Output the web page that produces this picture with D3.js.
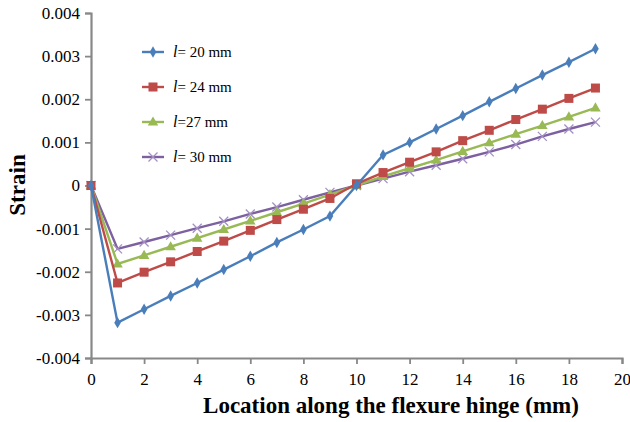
<!DOCTYPE html>
<html><head><meta charset="utf-8">
<script src="https://cdn.jsdelivr.net/npm/d3@7"></script>
<style>body{margin:0;background:#fff} .tick text{font-family:"Liberation Serif","Times New Roman",serif !important;}</style>
</head><body>
<script>
const xValues = [0,1,2,3,4,5,6,7,8,9,10,11,12,13,14,15,16,17,18,19];
const seriesNames = ["= 20 mm","= 24 mm","=27 mm","= 30 mm"];
const s20 = [0,-0.00318,-0.00287,-0.00256,-0.00226,-0.00195,-0.00164,-0.00132,-0.00102,-0.00071,0,0.00071,0.00100,0.00131,0.00162,0.00194,0.00225,0.00256,0.00286,0.00317];
const s24 = [0,-0.00226,-0.00201,-0.00177,-0.00153,-0.00129,-0.00104,-0.00079,-0.00055,-0.00030,0.00004,0.00030,0.00054,0.00078,0.00104,0.00128,0.00153,0.00177,0.00202,0.00226];
const s27 = [0,-0.00182,-0.00162,-0.00142,-0.00122,-0.00102,-0.00082,-0.00062,-0.00042,-0.00021,0,0.00021,0.00040,0.00059,0.00079,0.00099,0.00119,0.00139,0.00159,0.00180];
const s30 = [0,-0.00147,-0.00131,-0.00115,-0.00099,-0.00083,-0.00066,-0.00050,-0.00033,-0.00016,0,0.00016,0.00032,0.00047,0.00062,0.00078,0.00095,0.00114,0.00131,0.00147];
const xTicks = [0,2,4,6,8,10,12,14,16,18,20];
const yTicks = [-0.004,-0.003,-0.002,-0.001,0,0.001,0.002,0.003,0.004];
const yTickLabels = ["-0.004","-0.003","-0.002","-0.001","0","0.001","0.002","0.003","0.004"];
const colors = ["#4A7EBB","#BE4B48","#98B954","#7D60A0"];
const symbols = ["diamond","square","triangle","x"];

const W=630,H=422;
const serif="Liberation Serif, Times New Roman, serif";
const svg=d3.select("body").append("svg").attr("width",W).attr("height",H);
const x=d3.scaleLinear().domain([0,20]).range([91,622]);
const y=d3.scaleLinear().domain([-0.004,0.004]).range([358,13]);
const axisColor="#888";

// y axis
const ya=svg.append("g").attr("transform","translate(91,0)")
  .call(d3.axisLeft(y).tickValues(yTicks).tickSize(6).tickPadding(5).tickFormat((d,i)=>yTickLabels[i]));
ya.attr("font-family",serif);
ya.select(".domain").attr("stroke",axisColor).attr("stroke-width",2.2);
ya.selectAll(".tick line").attr("stroke",axisColor).attr("stroke-width",1.8);
ya.selectAll(".tick text").attr("font-size",17).attr("fill","#000");

// x axis
const xa=svg.append("g").attr("transform","translate(0,358)")
  .call(d3.axisBottom(x).tickValues(xTicks).tickSize(6).tickPadding(9));
xa.attr("font-family",serif);
xa.select(".domain").attr("stroke",axisColor).attr("stroke-width",2.2);
xa.selectAll(".tick line").attr("stroke",axisColor).attr("stroke-width",1.8);
xa.selectAll(".tick text").attr("font-size",17).attr("fill","#000");

// axis titles
svg.append("text").attr("x",391).attr("y",413).attr("text-anchor","middle")
  .attr("font-family",serif).attr("font-weight","bold").attr("font-size",23)
  .text("Location along the flexure hinge (mm)");
svg.append("text").attr("transform","translate(25,185) rotate(-90)").attr("text-anchor","middle")
  .attr("font-family",serif).attr("font-weight","bold").attr("font-size",23)
  .text("Strain");

const allSeries=[s20,s24,s27,s30];
const line=d3.line().x((d,i)=>x(xValues[i])).y(d=>y(d));

function drawMarker(g,type,cx,cy,color){
  if(type==="diamond"){
    g.append("path").attr("d",d3.symbol(d3.symbolDiamond,38)()).attr("transform",`translate(${cx},${cy})`).attr("fill",color);
  } else if(type==="square"){
    g.append("rect").attr("x",cx-4.5).attr("y",cy-4.5).attr("width",9).attr("height",9).attr("fill",color);
  } else if(type==="triangle"){
    g.append("path").attr("d",d3.symbol(d3.symbolTriangle,48)()).attr("transform",`translate(${cx},${cy+0.5})`).attr("fill",color);
  } else {
    g.append("path").attr("d",`M${cx-4.5},${cy-4.5}L${cx+4.5},${cy+4.5}M${cx-4.5},${cy+4.5}L${cx+4.5},${cy-4.5}`)
      .attr("stroke","#a490c4").attr("stroke-width",1.3).attr("fill","none");
  }
}

// draw series in reverse order so blue is on top
[3,2,1,0].forEach(k=>{
  const g=svg.append("g");
  g.append("path").datum(allSeries[k]).attr("d",line).attr("fill","none").attr("stroke",colors[k]).attr("stroke-width",2.4);
  allSeries[k].forEach((v,i)=>drawMarker(g,symbols[k],x(xValues[i]),y(v),colors[k]));
});

// legend
const legY=[52,87,122,157];
seriesNames.forEach((name,k)=>{
  const g=svg.append("g");
  g.append("line").attr("x1",142).attr("x2",164).attr("y1",legY[k]).attr("y2",legY[k]).attr("stroke",colors[k]).attr("stroke-width",2.4);
  drawMarker(g,symbols[k],153,legY[k],colors[k]);
  const t=g.append("text").attr("x",173).attr("y",legY[k]+5)
    .attr("font-family",serif).attr("font-size",15).attr("fill","#000");
  t.append("tspan").attr("font-style","italic").attr("font-size",16).text("l");
  t.append("tspan").text(name);
});
</script>
</body></html>
